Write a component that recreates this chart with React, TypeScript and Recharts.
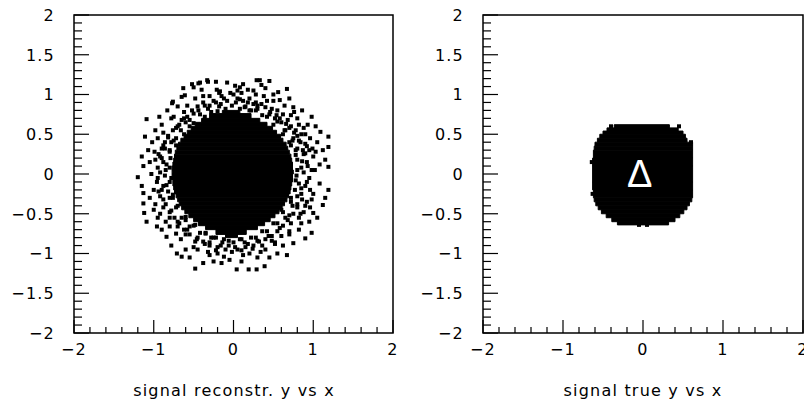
import { ScatterChart, Scatter, XAxis, YAxis, ReferenceArea, ReferenceDot } from "recharts";

// axis ticks: x minor every 0.2, y minor every 0.1
const X_TICKS = [-2, -1.8, -1.6, -1.4, -1.2, -1, -0.8, -0.6, -0.4, -0.2, 0, 0.2, 0.4, 0.6, 0.8, 1, 1.2, 1.4, 1.6, 1.8, 2];
const X_MAJOR = [-2, -1, 0, 1, 2];
const X_LABELS = ["−2", "−1", "0", "1", "2"];
const Y_TICKS = [
  -2, -1.9, -1.8, -1.7, -1.6, -1.5, -1.4, -1.3, -1.2, -1.1, -1, -0.9, -0.8, -0.7, -0.6, -0.5, -0.4, -0.3, -0.2, -0.1, 0,
  0.1, 0.2, 0.3, 0.4, 0.5, 0.6, 0.7, 0.8, 0.9, 1, 1.1, 1.2, 1.3, 1.4, 1.5, 1.6, 1.7, 1.8, 1.9, 2,
];
const Y_MAJOR = [-2, -1.5, -1, -0.5, 0, 0.5, 1, 1.5, 2];
const Y_LABELS = ["−2", "−1.5", "−1", "−0.5", "0", "0.5", "1", "1.5", "2"];

const TITLES = ["signal reconstr. y vs x", "signal true y vs x"];

// saturated core of the reconstructed distribution: [y0, y1, x0, x1]
const RECO_CORE = [
  [0.76, 0.8, -0.14, 0.08], [0.7, 0.76, -0.3, 0.22], [0.65, 0.7, -0.4, 0.33], [0.6, 0.65, -0.48, 0.42],
  [0.55, 0.6, -0.53, 0.49], [0.5, 0.55, -0.58, 0.54], [0.45, 0.5, -0.62, 0.59], [0.4, 0.45, -0.66, 0.62],
  [0.35, 0.4, -0.69, 0.66], [0.3, 0.35, -0.71, 0.68], [0.25, 0.3, -0.73, 0.7], [0.2, 0.25, -0.74, 0.72],
  [0.15, 0.2, -0.75, 0.73], [0.1, 0.15, -0.76, 0.74], [0.05, 0.1, -0.77, 0.74], [0, 0.05, -0.77, 0.75],
  [-0.05, 0, -0.77, 0.74], [-0.1, -0.05, -0.76, 0.74], [-0.15, -0.1, -0.76, 0.73], [-0.2, -0.15, -0.75, 0.72],
  [-0.25, -0.2, -0.74, 0.71], [-0.3, -0.25, -0.72, 0.69], [-0.35, -0.3, -0.7, 0.67], [-0.4, -0.35, -0.68, 0.64],
  [-0.45, -0.4, -0.65, 0.61], [-0.5, -0.45, -0.61, 0.57], [-0.55, -0.5, -0.56, 0.52], [-0.6, -0.55, -0.5, 0.46],
  [-0.65, -0.6, -0.44, 0.39], [-0.7, -0.65, -0.35, 0.3], [-0.76, -0.7, -0.22, 0.16], [-0.8, -0.76, -0.1, 0.05],
];

// individual reconstructed events outside the core
const RECO_X = [
  0.29, 0.33, 0.45, 0.56, 0.67, 0.58, 0.75, 0.86, 0.98, 1.09, 1.19, 1.19, 1.19, 0.02, 0.08, 0.18, 0.12, 0.25, 0.4, 0.5,
  0.93, 1.03, 1.12, 1.05, 1.15, 1.08, 0.7, 0.8, 0.35,
  0.05, 0.12, 0.2, 0.28, 0.35, 0.42, 0.48, 0.55, 0.62, 0.68, 0.72, 0.78, 0.85, 0.82, 0.9, 0.95, 0.88, 0.92, 0.98, 0.85,
  0.78, 0.75, 0.6, 0.45, 0.3, 0.15, 0.38, 0, 0.22, 0.52, 0.65, 0.7, 0.8, 1, 0.96, 0.88, 0.76, 0.64, 0.1,
  -0.33, -0.22, -0.44, -0.63, -0.5, -0.08, -0.76, -0.65, -0.93, -1.09, -0.83, -1.11, -1.07, -1.15, -0.52, -0.42, -0.32,
  -0.21, -0.17, -0.4, -0.61, -0.77, -0.98, -1.02, -1.13, -1.05, -0.9,
  -0.04, -0.12, -0.25, -0.3, -0.38, -0.45, -0.52, -0.58, -0.65, -0.7, -0.76, -0.82, -0.86, -0.9, -0.94, -0.88, -0.95,
  -0.8, -0.72, -0.62, -0.48, -0.18, -0.32, -0.55, -0.78, -0.95, -0.85, -0.98, -0.7, -0.15,
  -1.2, -1.13, -1.13, -1.12, -1.09, -0.96, -0.84, -0.71, -0.65, -0.48, -0.38, -0.25, -0.15, -0.05, -1.05, -1, -0.9,
  -0.78, -0.55, -0.3, -0.6, -1.15,
  -0.95, -0.88, -0.92, -0.85, -0.8, -0.74, -0.68, -0.62, -0.55, -0.46, -0.38, -0.3, -0.2, -0.1, -0.02, -0.76, -0.82,
  -0.78, -0.95, -0.72, -0.45, -0.35, -0.6, -0.98, -0.85, -0.12, -0.25, -0.5, -0.2,
  1.19, 1.12, 1, 0.98, 0.9, 0.75, 0.67, 0.39, 0.29, 0.19, 0.04, 0.55, 0.45, 0.1, 0.85, 1.08, 1.05, 0.62, 0.3, 1.15,
  0.95, 0.9, 0.85, 0.92, 0.8, 0.75, 0.68, 0.62, 0.55, 0.48, 0.4, 0.32, 0.25, 0.15, 0.05, 0.78, 0.72, 0.88, 0.7, 0.52,
  0.2, 0.4, 0.1, 0.6, 0.95, 0.82, 1,
  // inner band hugging the core
  0.88, 0.82, 0.86, 0.8, 0.87, 0.74, 0.8, 0.64, 0.7, 0.55, 0.58, 0.42, 0.46, 0.28, 0.3, 0.14, 0.18, -0.02, 0.03,
  -0.16, -0.1, -0.3, -0.28, -0.42, -0.44, -0.55, -0.6, -0.66, -0.68, -0.75, -0.78, -0.8, -0.86, -0.84, -0.9, -0.86,
  -0.92, -0.84, -0.9, -0.8, -0.88, -0.72, -0.78, -0.65, -0.7, -0.55, -0.58, -0.42, -0.45, -0.28, -0.3, -0.14, -0.16,
  0, 0.02, 0.14, 0.18, 0.28, 0.3, 0.42, 0.44, 0.55, 0.58, 0.65, 0.7, 0.74, 0.8, 0.8, 0.86, 0.85, 0.92,
  // middle band
  0.93, 0.9, 0.84, 0.76, 0.66, 0.54, 0.4, 0.25, 0.08, -0.08, -0.22, -0.36, -0.5, -0.62, -0.72, -0.82, -0.88, -0.92,
  -0.96, -0.94, -0.88, -0.8, -0.7, -0.6, -0.48, -0.36, -0.22, -0.06, 0.1, 0.24, 0.36, 0.48, 0.6, 0.72, 0.82, 0.9,
  0.96, 0.98, 0.92, 0.82,
  0.8, 0.79, 0.78, 0.72, 0.62, 0.5, 0.36, 0.2, 0.08, -0.2, -0.36, -0.5, -0.62, -0.72, -0.79, -0.8, -0.8, -0.76, -0.7,
  -0.6, -0.48, -0.35, -0.22, -0.06, 0.08, 0.22, 0.36, 0.5, 0.62, 0.72, 0.77,
  // outer band
  1.02, 0.99, 0.9, 0.72, 0.5, 0.28, 0.05, -0.18, -0.38, -0.58, -0.75, -0.88, -0.99, -1.03, -1, -0.92, -0.8, -0.66,
  -0.5, -0.32, -0.12, 0.12, 0.34, 0.52, 0.7, 0.84, 0.96, 1.03,
];
const RECO_Y = [
  1.18, 1.18, 1.17, 1.03, 1.07, 0.93, 0.84, 0.8, 0.72, 0.53, 0.47, 0.34, 0.09, 1.11, 1.09, 1.06, 1.13, 1.05, 1.08, 1,
  0.62, 0.6, 0.3, 0.4, 0.18, 0.12, 0.95, 0.7, 1.12,
  0.95, 0.92, 0.95, 0.9, 0.88, 0.92, 0.82, 0.8, 0.75, 0.68, 0.6, 0.55, 0.5, 0.42, 0.38, 0.3, 0.25, 0.15, 0.05, 0.08,
  0.3, 0.45, 0.65, 0.75, 0.82, 0.85, 0.98, 1, 0.8, 0.7, 0.55, 0.4, 0.18, 0.22, 0.45, 0.58, 0.78, 0.86, 1.02,
  1.18, 1.16, 1.14, 1.08, 1.09, 1.15, 0.91, 0.97, 0.72, 0.69, 0.8, 0.47, 0.3, 0.22, 1.13, 1.15, 1.16,
  1.06, 1.04, 1.06, 0.99, 0.89, 0.55, 0.4, 0.1, 0.15, 0.62,
  1.02, 0.95, 0.92, 0.98, 0.9, 0.85, 0.8, 0.72, 0.68, 0.6, 0.55, 0.48, 0.4, 0.32, 0.25, 0.15, 0.08,
  0.28, 0.45, 0.78, 0.95, 0.85, 0.82, 0.6, 0.7, 0.45, 0.05, 0.18, 0.85, 0.98,
  -0.04, -0.24, -0.37, -0.49, -0.6, -0.66, -0.79, -1, -1.04, -1.19, -1.12, -1.1, -1.12, -1.08, -0.3, -0.45, -0.7,
  -0.9, -1.05, -1.02, -0.95, -0.15,
  -0.05, -0.15, -0.28, -0.38, -0.48, -0.55, -0.62, -0.7, -0.76, -0.82, -0.85, -0.9, -0.92, -0.95, -0.98, -0.3, -0.22,
  -0.05, -0.55, -0.75, -0.95, -0.75, -0.58, -0.38, -0.6, -0.82, -0.8, -0.65, -1,
  -0.2, -0.39, -0.49, -0.74, -0.81, -0.87, -1.02, -1.16, -1.2, -1.2, -1.2, -1, -1.05, -1.1, -0.62, -0.12, -0.55, -0.9,
  -1.05, -0.3,
  -0.05, -0.15, -0.25, -0.35, -0.42, -0.5, -0.58, -0.65, -0.72, -0.78, -0.82, -0.85, -0.9, -0.92, -0.95, -0.08, -0.3,
  -0.48, -0.72, -0.88, -1, -0.95, -0.82, -0.45, -0.6, -0.7, -0.25,
  // inner band hugging the core
  0.02, -0.12, 0.16, 0.32, 0.3, 0.42, 0.48, 0.55, 0.58, 0.66, 0.7, 0.72, 0.78, 0.8, 0.86, 0.84, 0.9, 0.86, 0.9,
  0.88, 0.82, 0.86, 0.78, 0.75, 0.8, 0.68, 0.65, 0.55, 0.62, 0.42, 0.4, 0.3, 0.32, 0.12, 0.2, -0.02,
  0.02, -0.14, -0.2, -0.3, -0.32, -0.42, -0.46, -0.55, -0.6, -0.66, -0.7, -0.74, -0.8, -0.8, -0.86, -0.86, -0.9,
  -0.86, -0.92, -0.86, -0.88, -0.8, -0.84, -0.72, -0.78, -0.62, -0.68, -0.55, -0.52, -0.4, -0.38, -0.28, -0.32, -0.18,
  -0.1,
  // middle band
  0.1, 0.26, 0.4, 0.52, 0.63, 0.74, 0.84, 0.88, 0.94, 0.92, 0.9, 0.86, 0.76, 0.7, 0.58, 0.46, 0.36, 0.22,
  -0.1, -0.22, -0.42, -0.55, -0.66, -0.76, -0.85, -0.88, -0.96, -0.9, -0.96, -0.94, -0.9, -0.84, -0.78, -0.62, -0.55,
  -0.4, -0.2, -0.32, 0.35, 0.62,
  0.05, -0.02, 0.24, 0.36, 0.5, 0.62, 0.74, 0.8, 0.82, 0.79, 0.72, 0.64, 0.5, 0.36, 0.2, 0.08, -0.1, -0.26, -0.4,
  -0.54, -0.64, -0.74, -0.8, -0.84, -0.82, -0.8, -0.72, -0.62, -0.48, -0.35, -0.2,
  // outer band
  0.05, 0.32, 0.5, 0.74, 0.92, 1, 1.05, 1.02, 0.98, 0.86, 0.72, 0.52, 0.28, 0, -0.2, -0.5, -0.66, -0.82,
  -0.92, -0.98, -1.04, -1.02, -0.98, -0.86, -0.76, -0.5, -0.42, 0.28,
];

// true distribution: a filled blob, [y0, y1, x0, x1]
const TRUE_CORE = [
  [0.58, 0.62, -0.36, 0.33], [0.54, 0.58, -0.45, 0.44], [0.5, 0.54, -0.5, 0.5], [0.45, 0.5, -0.54, 0.53],
  [0.4, 0.45, -0.57, 0.55], [0.35, 0.4, -0.6, 0.62], [0.3, 0.35, -0.61, 0.62], [0.2, 0.3, -0.62, 0.62],
  [0.1, 0.2, -0.63, 0.62], [-0.1, 0.1, -0.63, 0.62], [-0.2, -0.1, -0.63, 0.62], [-0.3, -0.2, -0.62, 0.62],
  [-0.35, -0.3, -0.61, 0.61], [-0.4, -0.35, -0.59, 0.58], [-0.45, -0.4, -0.56, 0.55], [-0.5, -0.45, -0.52, 0.51],
  [-0.55, -0.5, -0.46, 0.46], [-0.6, -0.55, -0.39, 0.4], [-0.64, -0.6, -0.32, 0.32],
];
const TRUE_X = [0.6, -0.64, -0.63, -0.4, 0.45, -0.05, 0.05];
const TRUE_Y = [0.4, 0.15, -0.25, 0.6, 0.6, -0.64, -0.64];

const FONT = "'DejaVu Sans', sans-serif";

const recoPoints = RECO_X.map((x, i) => ({ x, y: RECO_Y[i] }));
const truePoints = TRUE_X.map((x, i) => ({ x, y: TRUE_Y[i] }));

function XTick({ x, y, payload }: any) {
  const idx = X_MAJOR.indexOf(payload.value);
  return (
    <g>
      <line x1={x} x2={x} y1={y} y2={y - (idx >= 0 ? 13 : 6)} stroke="#000" strokeWidth={1.2} />
      {idx >= 0 && (
        <text x={x} y={y + 22} textAnchor="middle" fontSize={16} fontFamily={FONT} letterSpacing={1.2} fill="#000">
          {X_LABELS[idx]}
        </text>
      )}
    </g>
  );
}

function YTick({ x, y, payload }: any) {
  const idx = Y_MAJOR.indexOf(payload.value);
  return (
    <g>
      <line x1={x} x2={x + (idx >= 0 ? 15 : 8)} y1={y} y2={y} stroke="#000" strokeWidth={1.2} />
      {idx >= 0 && (
        <text x={x - 19} y={y} dy="0.36em" textAnchor="end" fontSize={16} fontFamily={FONT} letterSpacing={1.2} fill="#000">
          {Y_LABELS[idx]}
        </text>
      )}
    </g>
  );
}

const Square = (p: any) => <rect x={p.cx - 2} y={p.cy - 2} width={4} height={4} fill="#000" />;

function Panel({ left, width, margin, core, points, title, titleX, delta }: any) {
  return (
    <div style={{ position: "absolute", left, top: 0, width, height: 407 }}>
      <ScatterChart width={width} height={407} margin={margin}>
        <XAxis
          type="number"
          dataKey="x"
          domain={[-2, 2]}
          ticks={X_TICKS}
          interval={0}
          height={1}
          tickSize={0}
          tickMargin={0}
          tickLine={false}
          axisLine={false}
          allowDataOverflow
          tick={(p: any) => <XTick {...p} />}
        />
        <YAxis
          type="number"
          dataKey="y"
          domain={[-2, 2]}
          ticks={Y_TICKS}
          interval={0}
          width={1}
          tickSize={0}
          tickMargin={0}
          tickLine={false}
          axisLine={false}
          allowDataOverflow
          tick={(p: any) => <YTick {...p} />}
        />
        {core.map((r: number[], i: number) => (
          <ReferenceArea
            key={i}
            y1={r[0]}
            y2={r[1]}
            x1={r[2]}
            x2={r[3]}
            fill="#000"
            fillOpacity={1}
            stroke="#000"
            strokeWidth={1}
          />
        ))}
        <Scatter data={points} shape={Square} isAnimationActive={false} />
        {delta && (
          <ReferenceDot
            x={-0.04}
            y={0}
            r={0}
            fill="none"
            stroke="none"
            label={{ value: "Δ", position: "center", fill: "#fff", fontSize: 38, fontFamily: "'Liberation Sans', Arial, sans-serif" }}
          />
        )}
        <ReferenceArea x1={-2} x2={2} y1={-2} y2={2} fill="none" stroke="#000" strokeWidth={1.5} />
      </ScatterChart>
      <div
        style={{
          position: "absolute",
          left: titleX - 150,
          width: 300,
          top: 381,
          textAlign: "center",
          fontFamily: FONT,
          fontSize: 16,
          lineHeight: "19px",
          letterSpacing: 1.2,
          color: "#000",
        }}
      >
        {title}
      </div>
    </div>
  );
}

export default function App() {
  return (
    <div style={{ position: "absolute", left: 0, top: 0, width: 804, height: 407, background: "#fff", overflow: "hidden" }}>
      <Panel
        left={0}
        width={400}
        margin={{ top: 15, right: 7, bottom: 73, left: 73 }}
        core={RECO_CORE}
        points={recoPoints}
        title={TITLES[0]}
        titleX={234}
      />
      <Panel
        left={400}
        width={404}
        margin={{ top: 15, right: 1, bottom: 73, left: 82 }}
        core={TRUE_CORE}
        points={truePoints}
        title={TITLES[1]}
        titleX={243}
        delta
      />
    </div>
  );
}
